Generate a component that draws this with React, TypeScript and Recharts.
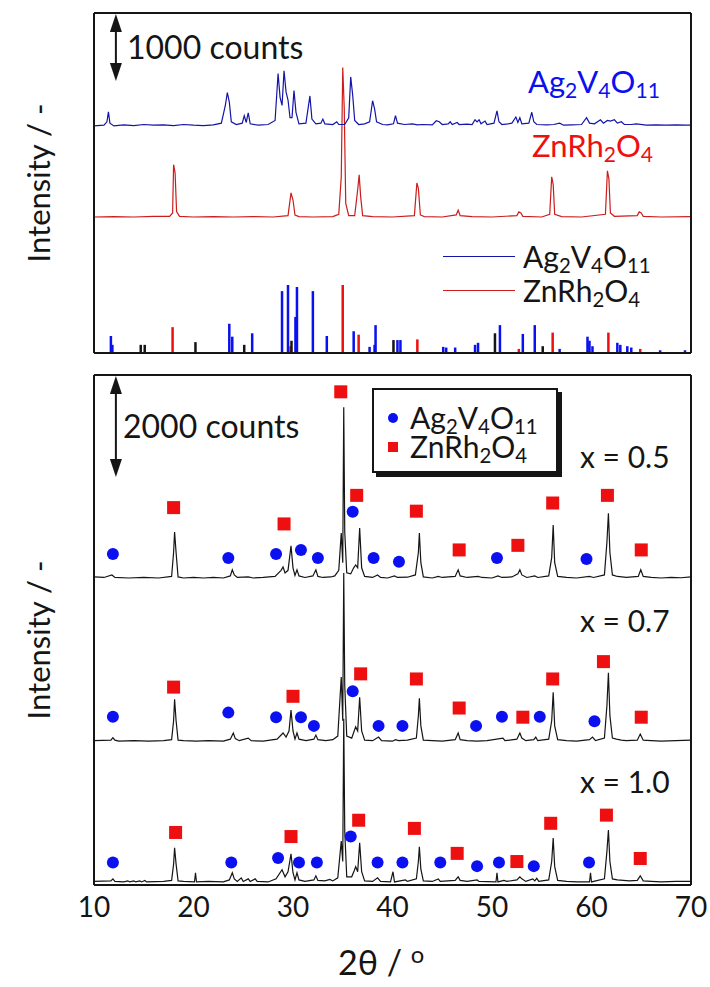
import React from 'react';
import { ComposedChart, Line, Bar, Cell, Scatter, XAxis, YAxis, ReferenceLine, Legend } from 'recharts';

const FONT = 'Lato, "Noto Sans", sans-serif';

const X_TICKS = [10, 15, 20, 25, 30, 35, 40, 45, 50, 55, 60, 65, 70];
const X_LABELS = [10, 20, 30, 40, 50, 60, 70];
const TOP_Y_TICKS = [0, 1000, 2000, 3000, 4000, 5000];
const BOT_Y_TICKS = [0, 2000, 4000, 6000, 8000, 10000];

// single phase patterns [2θ, counts above own baseline]
const AGV_PATTERN = [
  [10, 0], [11, 10], [11.3, 60], [11.45, 205], [11.6, 40], [12, 0], [13, 15], [14, 5], [15, 20], [16, 10],
  [17, 15], [18, 5], [19, 20], [20, 10], [21, 5], [22, 15], [22.8, 40], [23.2, 300], [23.4, 490], [23.6, 350],
  [23.8, 60], [24.3, 20], [24.9, 40], [25.1, 150], [25.3, 50], [25.5, 190], [25.7, 30], [26.5, 10], [27.5, 20],
  [28.2, 80], [28.5, 770], [28.7, 420], [28.9, 300], [29.1, 810], [29.3, 500], [29.5, 380], [29.7, 120],
  [29.9, 120], [30.1, 520], [30.3, 200], [30.6, 30], [31.3, 40], [31.7, 440], [31.9, 100], [32.3, 30],
  [32.8, 40], [33, 100], [33.2, 30], [34, 20], [34.4, 60], [34.6, 20], [35.2, 20], [35.6, 120], [35.8, 720],
  [36, 450], [36.2, 80], [36.6, 20], [37.2, 30], [37.7, 60], [38, 370], [38.2, 250], [38.4, 60], [39, 20],
  [39.5, 15], [40.1, 30], [40.3, 150], [40.5, 40], [41.2, 20], [42, 30], [42.5, 15], [43, 20], [44, 15],
  [44.4, 75], [44.7, 60], [45, 20], [45.6, 30], [45.8, 60], [46, 20], [46.5, 50], [46.7, 20], [47.5, 25],
  [48, 20], [48.3, 90], [48.5, 60], [48.7, 90], [48.9, 30], [49.3, 70], [49.5, 20], [50.2, 40], [50.5, 220],
  [50.7, 60], [51, 20], [51.6, 30], [52, 40], [52.4, 130], [52.6, 50], [52.8, 120], [53, 30], [53.7, 40],
  [54, 200], [54.2, 60], [54.5, 20], [55.5, 15], [56.2, 20], [56.8, 40], [57.2, 10], [58, 15], [59, 20],
  [59.5, 120], [59.8, 40], [60.3, 30], [60.9, 90], [61.2, 40], [61.6, 80], [61.9, 70], [62.3, 90], [62.6, 40],
  [63, 60], [63.3, 20], [64, 20], [64.5, 30], [65.5, 10], [66.5, 15], [67.5, 10], [68.5, 15], [69.5, 10], [70, 10],
];

const ZRO_PATTERN = [
  [10, 0], [12, 5], [14, 0], [16, 10], [17.6, 10], [17.9, 60], [18, 770], [18.15, 650], [18.3, 80], [18.6, 10],
  [20, 0], [22, 5], [24, 0], [26, 5], [28, 0], [29.5, 20], [29.8, 355], [30, 250], [30.2, 30], [30.6, 5], [32, 0],
  [34, 5], [34.6, 40], [34.85, 590], [35, 2200], [35.15, 1600], [35.3, 200], [35.6, 20], [36.2, 20], [36.5, 400],
  [36.65, 620], [36.8, 300], [37, 20], [38, 5], [40, 0], [42.2, 20], [42.45, 500], [42.6, 420], [42.8, 30],
  [43.2, 5], [45, 0], [46.4, 30], [46.6, 100], [46.8, 20], [48, 5], [50, 0], [52.5, 20], [52.7, 75], [52.9, 60],
  [53.1, 10], [55, 0], [55.8, 40], [56, 590], [56.15, 480], [56.3, 40], [57, 5], [59, 0], [61.4, 40], [61.6, 680],
  [61.75, 560], [61.9, 60], [62.3, 10], [64.6, 20], [64.8, 75], [65, 60], [65.2, 10], [67, 0], [70, 5],
];

// reference patterns, relative intensity %
const AGV_REF_POS = [11.7, 11.85, 23.6, 23.9, 25.9, 28.9, 29.5, 30.25, 30.4, 32.0, 33.4, 36.1, 37.7, 38.2, 38.3,
  40.5, 40.8, 45.1, 45.4, 46.3, 48.3, 48.6, 50.8, 53.1, 54.3, 56.8, 59.6, 59.8, 60.1, 62.6, 62.9, 63.6, 64.0, 66.9, 69.4];
const AGV_REF_INT = [25, 12, 43, 24, 29, 91, 100, 53, 97, 91, 25, 32, 9, 12, 41,
  19, 19, 9, 8, 8, 12, 15, 41, 28, 41, 6, 24, 18, 10, 15, 12, 10, 8, 4, 4];
const ZRO_REF_POS = [17.9, 29.75, 35.0, 36.6, 42.5, 52.7, 56.1, 61.7, 64.9];
const ZRO_REF_INT = [38, 10, 100, 27, 20, 6, 30, 30, 6];
const OTHER_REF_POS = [14.7, 15.1, 20.2, 25.1, 29.85, 40.1, 50.3, 55.1];
const OTHER_REF_INT = [12, 12, 16, 12, 18, 19, 29, 10];

// composite samples, x = 0.5 / 0.7 / 1.0
const TRACE_05 = [
  [10, 20], [11, 10], [11.8, 60], [12.1, 10], [13.5, 0], [15, 10], [16.5, 0], [17.8, 30], [18, 500], [18.1, 900],
  [18.25, 500], [18.45, 20], [19, 0], [20, 10], [21, 0], [22, 10], [23, 0], [23.7, 40], [23.9, 160], [24.1, 60],
  [24.4, 10], [25.5, 20], [26, 0], [27, 10], [28.2, 30], [28.8, 150], [29, 215], [29.2, 100], [29.5, 150],
  [29.8, 630], [30, 200], [30.2, 50], [30.4, 160], [30.6, 40], [31.2, 10], [32, 40], [32.3, 160], [32.5, 30],
  [33, 10], [33.8, 20], [34.2, 40], [34.6, 150], [34.85, 880], [35, 300], [35.1, 3350], [35.2, 900], [35.4, 100],
  [35.8, 80], [36.1, 200], [36.3, 255], [36.5, 200], [36.7, 980], [36.9, 200], [37.2, 30], [38, 10], [38.5, 60],
  [38.8, 10], [39.5, 0], [40.2, 40], [40.5, 10], [41.5, 15], [42.3, 60], [42.6, 500], [42.7, 880], [42.85, 300],
  [43.1, 20], [44, 0], [44.6, 30], [45, 10], [46.3, 30], [46.6, 160], [46.8, 40], [47.5, 10], [48.6, 30], [49, 10],
  [50, 0], [50.6, 40], [51, 10], [52, 20], [52.6, 80], [52.8, 160], [53, 60], [53.5, 10], [54.3, 40], [54.6, 10],
  [55.7, 40], [56, 400], [56.15, 1040], [56.3, 300], [56.6, 30], [57.5, 10], [58.5, 0], [59.8, 30], [60.2, 10],
  [61.3, 60], [61.55, 700], [61.7, 1270], [61.85, 500], [62.1, 60], [62.6, 30], [63.5, 10], [64.7, 30], [64.95, 160],
  [65.2, 30], [66, 10], [67, 0], [68, 10], [69, 5], [70, 20],
];
const TRACE_07 = [
  [10, 10], [11.7, 20], [11.9, 70], [12.1, 20], [12.5, 0], [14, 10], [15.5, 0], [17, 10], [17.8, 30], [18, 400],
  [18.1, 820], [18.25, 400], [18.45, 20], [19, 10], [20.3, 0], [21.5, 10], [23, 0], [23.7, 40], [24, 160],
  [24.2, 50], [24.6, 10], [25.5, 60], [25.8, 10], [27, 0], [28.4, 40], [29, 160], [29.3, 80], [29.6, 200],
  [29.8, 610], [30, 200], [30.2, 40], [30.4, 160], [30.6, 40], [31.3, 10], [32.1, 40], [32.3, 120], [32.5, 30],
  [33.3, 10], [34, 30], [34.5, 100], [34.85, 1260], [35, 400], [35.1, 3300], [35.2, 1100], [35.4, 100], [35.9, 60],
  [36.15, 200], [36.3, 280], [36.5, 200], [36.7, 860], [36.9, 200], [37.2, 20], [38, 10], [38.6, 80], [38.9, 10],
  [40, 0], [40.3, 30], [40.6, 10], [41.5, 20], [42.4, 60], [42.6, 500], [42.7, 840], [42.85, 300], [43.1, 20],
  [44, 10], [45, 0], [46.3, 30], [46.6, 160], [46.8, 30], [47.5, 10], [48.5, 0], [49.5, 10], [51.1, 60], [51.3, 10],
  [52.5, 40], [52.8, 160], [53, 60], [53.4, 10], [54.2, 30], [54.4, 80], [54.6, 10], [55.7, 40], [56, 400],
  [56.15, 960], [56.3, 300], [56.6, 30], [57.5, 10], [58.5, 0], [59.8, 30], [60.1, 80], [60.4, 10], [61.3, 60],
  [61.55, 700], [61.7, 1340], [61.85, 500], [62.1, 60], [62.5, 40], [63, 20], [63.5, 10], [64.6, 20], [64.9, 140],
  [65.2, 20], [66, 10], [67, 0], [68.5, 10], [70, 20],
];
const TRACE_10 = [
  [10, 10], [11.7, 20], [11.9, 60], [12.1, 10], [13, 0], [13.4, 20], [13.6, 0], [14, 20], [14.2, 0], [14.6, 20],
  [14.8, 0], [15.1, 30], [15.3, 0], [17, 10], [17.8, 30], [18, 350], [18.1, 670], [18.25, 350], [18.45, 20],
  [19, 10], [20.1, 0], [20.2, 180], [20.3, 0], [21.5, 10], [23, 0], [23.6, 40], [23.9, 180], [24.1, 60], [24.4, 10],
  [24.8, 80], [25, 10], [25.5, 60], [25.7, 10], [26.2, 60], [26.4, 10], [27.5, 0], [28.3, 60], [28.9, 240],
  [29.2, 100], [29.5, 200], [29.8, 550], [30, 180], [30.2, 40], [30.4, 180], [30.6, 40], [31.2, 10], [32.1, 40],
  [32.3, 120], [32.5, 30], [33.2, 20], [33.7, 50], [34, 20], [34.5, 80], [34.85, 800], [35, 400], [35.1, 3200],
  [35.2, 1000], [35.4, 100], [35.9, 100], [36.15, 220], [36.3, 300], [36.5, 200], [36.7, 770], [36.9, 200],
  [37.2, 20], [38, 10], [38.5, 80], [38.8, 10], [39.8, 0], [40.05, 200], [40.2, 0], [41.3, 40], [41.5, 10],
  [42.4, 60], [42.6, 400], [42.7, 690], [42.85, 250], [43.1, 20], [44, 10], [44.6, 60], [44.8, 10], [46.3, 30],
  [46.6, 100], [46.8, 30], [47.5, 10], [48.5, 40], [48.7, 10], [50.4, 0], [50.5, 180], [50.6, 0], [51.2, 30],
  [51.5, 10], [52.5, 40], [52.8, 100], [53, 60], [53.4, 10], [54.1, 60], [54.3, 20], [54.5, 70], [54.7, 10],
  [55.7, 40], [56, 400], [56.15, 860], [56.3, 300], [56.6, 30], [57.5, 10], [58.5, 0], [59.8, 0], [59.9, 180],
  [60, 0], [61.3, 60], [61.55, 600], [61.7, 1020], [61.85, 400], [62.1, 60], [62.6, 40], [63.2, 30], [63.8, 20],
  [64.6, 30], [64.9, 120], [65.2, 20], [66, 10], [67, 0], [68.5, 10], [70, 10],
];

// phase markers [2θ, counts on the stacked scale]
const AGV_MARKS_05 = [[11.9, 6490], [23.5, 6410], [28.3, 6490], [30.8, 6570], [32.5, 6410], [36.0, 7320],
  [38.1, 6410], [40.65, 6340], [50.5, 6410], [59.5, 6390]];
const ZRO_MARKS_05 = [[18.0, 7400], [29.1, 7080], [34.8, 9670], [36.4, 7640], [42.4, 7330], [46.7, 6570],
  [52.6, 6660], [56.1, 7490], [61.6, 7640], [65.0, 6570]];
const AGV_MARKS_07 = [[11.9, 3300], [23.5, 3380], [28.3, 3290], [30.8, 3290], [32.1, 3120], [36.0, 3800],
  [38.6, 3120], [41.0, 3120], [48.4, 3120], [51.0, 3300], [54.8, 3300], [60.3, 3210]];
const ZRO_MARKS_07 = [[18.0, 3880], [30.0, 3700], [36.8, 4140], [42.4, 4040], [46.7, 3470], [53.1, 3290],
  [56.1, 4040], [61.2, 4380], [65.0, 3290]];
const AGV_MARKS_10 = [[11.9, 440], [23.8, 440], [28.5, 530], [30.6, 440], [32.4, 440], [35.8, 950], [38.5, 440],
  [41.0, 440], [44.8, 440], [48.5, 370], [50.7, 440], [54.2, 370], [59.75, 440]];
const ZRO_MARKS_10 = [[18.2, 1030], [29.8, 950], [36.6, 1270], [42.2, 1110], [46.5, 620], [52.5, 460],
  [55.9, 1210], [61.5, 1370], [64.9, 520]];

// stacking offsets (counts)
const AGV_OFFSET = 3340;
const ZRO_OFFSET = 2000;
const REF_SCALE = 10; // 100 % -> 1000 counts
const OFF_05 = 6020;
const OFF_07 = 2820;
const OFF_10 = 60;

const BLUE_LINE = '#1414a8';
const RED_LINE = '#cc1c1c';
const BLUE = '#0a10f0';
const RED = '#ee1010';
const INK = '#151515';

const rows = (pts: number[][], off = 0) => pts.map(([x, y]) => ({ x, y: y + off }));

const Sub = ({ children }: { children: React.ReactNode }) => (
  <sub style={{ fontSize: '0.68em', verticalAlign: '-0.24em', lineHeight: 0 }}>{children}</sub>
);
const AgVO = () => <>Ag<Sub>2</Sub>V<Sub>4</Sub>O<Sub>11</Sub></>;
const ZnRhO = () => <>ZnRh<Sub>2</Sub>O<Sub>4</Sub></>;

const Note = ({ left, top, size = 30, color = INK, children, rotate }: any) => (
  <div
    style={{
      position: 'absolute', left, top, fontSize: size, color, fontFamily: FONT, lineHeight: 1,
      whiteSpace: 'nowrap', transform: rotate ? 'translate(-50%, -50%) rotate(-90deg)' : undefined,
    }}
  >
    {children}
  </div>
);

const DoubleArrow = (p: any) => {
  const x = p.x1;
  const top = Math.min(p.y1, p.y2);
  const bot = Math.max(p.y1, p.y2);
  return (
    <g>
      <line x1={x} x2={x} y1={top + 10} y2={bot - 10} stroke={INK} strokeWidth={2} />
      <polygon points={`${x},${top + 1} ${x - 6},${top + 19} ${x + 6},${top + 19}`} fill={INK} />
      <polygon points={`${x},${bot} ${x - 6},${bot - 18} ${x + 6},${bot - 18}`} fill={INK} />
    </g>
  );
};

// thin stick centred on the bar slot
const Stick = (p: any) => (
  <rect x={p.x + p.width / 2 - 1.25} y={p.y} width={2.5} height={Math.max(p.height, 0)} fill={p.fill} />
);

const TopLegend = () => (
  <div style={{ fontFamily: FONT, fontSize: 30, color: INK, lineHeight: '34px' }}>
    {[[BLUE_LINE, <AgVO />], [RED_LINE, <ZnRhO />]].map(([c, label]: any, i) => (
      <div key={i} style={{ display: 'flex', alignItems: 'center', height: 34 }}>
        <div style={{ width: 72, borderTop: `1.5px solid ${c}`, marginRight: 8 }} />
        <span>{label}</span>
      </div>
    ))}
  </div>
);

const BottomLegend = () => (
  <div style={{ position: 'relative', width: 186, height: 85, boxSizing: 'border-box', border: `2px solid ${INK}`,
    boxShadow: `4px 4px 0 ${INK}`, background: '#fff', fontFamily: FONT, fontSize: 30, color: INK }}>
    <div style={{ position: 'absolute', left: 14, top: 23, width: 10, height: 10, borderRadius: 5, background: BLUE }} />
    <div style={{ position: 'absolute', left: 36, top: 12, lineHeight: 1, whiteSpace: 'nowrap' }}><AgVO /></div>
    <div style={{ position: 'absolute', left: 14, top: 52, width: 10, height: 10, background: RED }} />
    <div style={{ position: 'absolute', left: 36, top: 41, lineHeight: 1, whiteSpace: 'nowrap' }}><ZnRhO /></div>
  </div>
);

const axisLine = { stroke: INK, strokeWidth: 2 };

const frame = (yTicks: number[], yMax: number) => [
  <XAxis key="xb" xAxisId="x" dataKey="x" type="number" domain={[10, 70]} ticks={X_TICKS} allowDataOverflow
    mirror height={1} tick={false} tickSize={10} axisLine={axisLine} tickLine={axisLine} />,
  <XAxis key="xt" xAxisId="xt" dataKey="x" orientation="top" type="number" domain={[10, 70]} ticks={X_TICKS}
    allowDataOverflow mirror height={1} tick={false} tickSize={10} axisLine={axisLine} tickLine={axisLine} />,
  <YAxis key="yl" yAxisId="y" type="number" domain={[0, yMax]} ticks={yTicks} allowDataOverflow mirror width={1}
    tick={false} tickSize={12} axisLine={axisLine} tickLine={axisLine} />,
  <YAxis key="yr" yAxisId="yr" orientation="right" type="number" domain={[0, yMax]} ticks={yTicks} allowDataOverflow
    mirror width={1} tick={false} tickSize={12} axisLine={axisLine} tickLine={axisLine} />,
];

export default function App() {
  const sticks = [
    ...AGV_REF_POS.map((x, i) => ({ x, h: AGV_REF_INT[i] * REF_SCALE, fill: BLUE })),
    ...ZRO_REF_POS.map((x, i) => ({ x, h: ZRO_REF_INT[i] * REF_SCALE, fill: RED })),
    ...OTHER_REF_POS.map((x, i) => ({ x, h: OTHER_REF_INT[i] * REF_SCALE, fill: INK })),
  ].sort((a, b) => a.x - b.x);

  const agvMarks = rows([...AGV_MARKS_05, ...AGV_MARKS_07, ...AGV_MARKS_10]);
  const zroMarks = rows([...ZRO_MARKS_05, ...ZRO_MARKS_07, ...ZRO_MARKS_10]);

  return (
    <div style={{ position: 'absolute', left: 0, top: 0, width: 710, height: 987, background: '#fff', fontFamily: FONT }}>
      <div style={{ position: 'absolute', left: 0, top: 0 }}>
        <ComposedChart width={710} height={360} data={sticks} margin={{ top: 13, right: 19, bottom: 7, left: 94 }}>
          {frame(TOP_Y_TICKS, 5000)}
          <Bar xAxisId="x" yAxisId="y" dataKey="h" barSize={3} shape={Stick} isAnimationActive={false}>
            {sticks.map((s, i) => <Cell key={i} fill={s.fill} />)}
          </Bar>
          <Line xAxisId="x" yAxisId="y" data={rows(ZRO_PATTERN, ZRO_OFFSET)} dataKey="y" stroke={RED_LINE}
            strokeWidth={1.2} dot={false} activeDot={false} isAnimationActive={false} />
          <Line xAxisId="x" yAxisId="y" data={rows(AGV_PATTERN, AGV_OFFSET)} dataKey="y" stroke={BLUE_LINE}
            strokeWidth={1.2} dot={false} activeDot={false} isAnimationActive={false} />
          <ReferenceLine xAxisId="x" yAxisId="y" segment={[{ x: 12.2, y: 4000 }, { x: 12.2, y: 5000 }]} shape={DoubleArrow} />
          <Legend layout="vertical" align="center" verticalAlign="middle" content={() => <TopLegend />}
            wrapperStyle={{ left: 443, top: 239, width: 240 }} />
        </ComposedChart>
      </div>

      <div style={{ position: 'absolute', left: 0, top: 360 }}>
        <ComposedChart width={710} height={627} margin={{ top: 15, right: 19, bottom: 62, left: 94 }}>
          {frame(BOT_Y_TICKS, 10000)}
          <XAxis xAxisId="xl" dataKey="x" type="number" domain={[10, 70]} ticks={X_LABELS} allowDataOverflow
            height={40} axisLine={false} tickLine={false} tickSize={0} tickMargin={12}
            tick={{ fontSize: 28, fill: INK, fontFamily: FONT }} />
          <Line xAxisId="x" yAxisId="y" data={rows(TRACE_10, OFF_10)} dataKey="y" stroke={INK} strokeWidth={1.2}
            dot={false} activeDot={false} isAnimationActive={false} />
          <Line xAxisId="x" yAxisId="y" data={rows(TRACE_07, OFF_07)} dataKey="y" stroke={INK} strokeWidth={1.2}
            dot={false} activeDot={false} isAnimationActive={false} />
          <Line xAxisId="x" yAxisId="y" data={rows(TRACE_05, OFF_05)} dataKey="y" stroke={INK} strokeWidth={1.2}
            dot={false} activeDot={false} isAnimationActive={false} />
          <Scatter xAxisId="x" yAxisId="y" data={agvMarks} dataKey="y" isAnimationActive={false}
            shape={(p: any) => <circle cx={p.cx} cy={p.cy} r={6} fill={BLUE} />} />
          <Scatter xAxisId="x" yAxisId="y" data={zroMarks} dataKey="y" isAnimationActive={false}
            shape={(p: any) => <rect x={p.cx - 6.5} y={p.cy - 6.5} width={13} height={13} fill={RED} />} />
          <ReferenceLine xAxisId="x" yAxisId="y" segment={[{ x: 12.2, y: 8000 }, { x: 12.2, y: 10000 }]} shape={DoubleArrow} />
          <Legend layout="vertical" align="center" verticalAlign="middle" content={() => <BottomLegend />}
            wrapperStyle={{ left: 372, top: 28, width: 190 }} />
        </ComposedChart>
      </div>

      <Note left={127} top={31} size={32}>1000 counts</Note>
      <Note left={528} top={66} size={31} color={BLUE}><AgVO /></Note>
      <Note left={532} top={130} size={31} color={RED}><ZnRhO /></Note>

      <Note left={123} top={410} size={32}>2000 counts</Note>
      <Note left={580} top={441} size={30}>x = 0.5</Note>
      <Note left={580} top={605} size={30}>x = 0.7</Note>
      <Note left={580} top={766} size={30}>x = 1.0</Note>

      <Note left={38} top={183} size={31} rotate>Intensity / -</Note>
      <Note left={38} top={640} size={31} rotate>Intensity / -</Note>
      <Note left={338} top={945} size={34}>2θ / <sup style={{ fontSize: '0.7em', verticalAlign: '0.5em', lineHeight: 0 }}>o</sup></Note>
    </div>
  );
}
